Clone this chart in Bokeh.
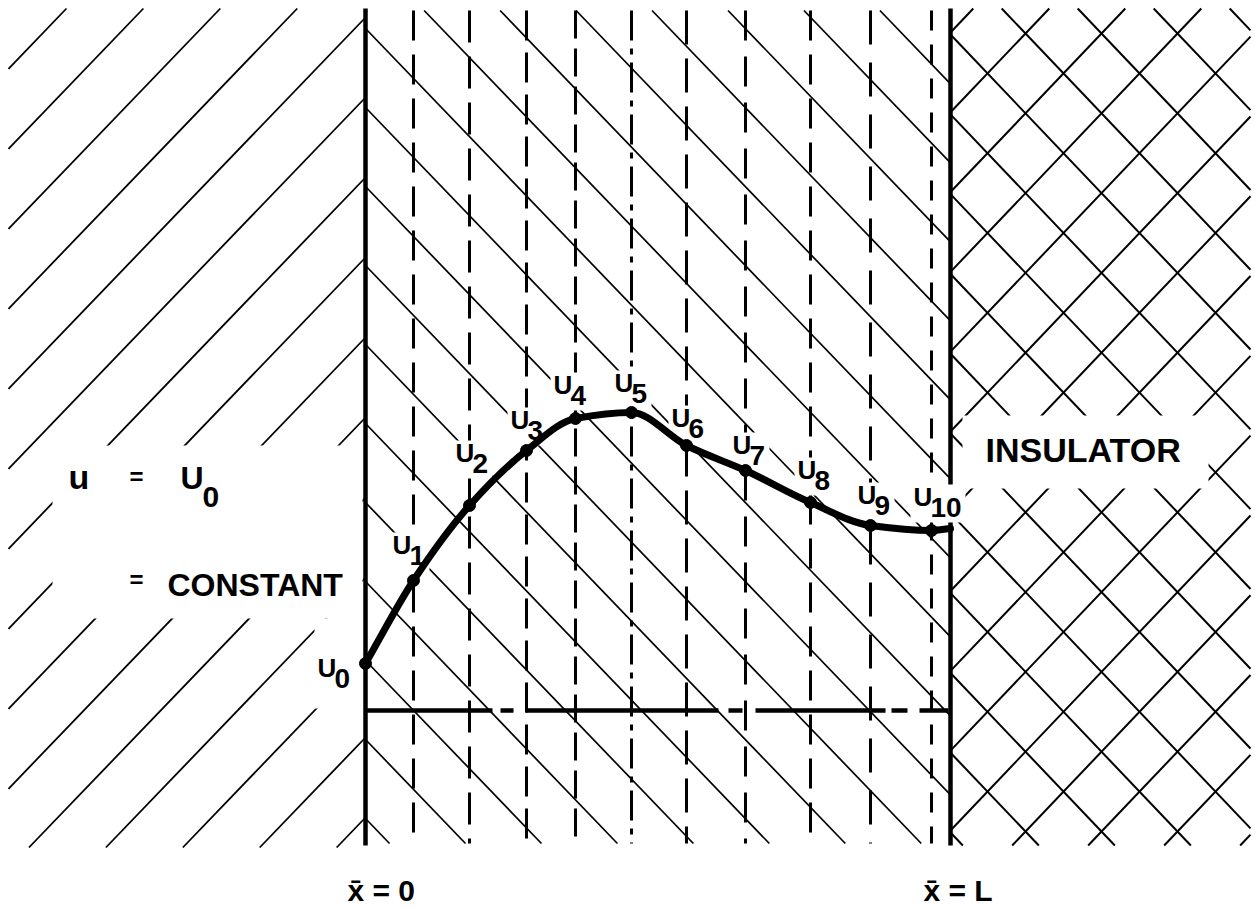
import numpy as np
from bokeh.plotting import figure
from bokeh.models import Range1d
from bokeh.core.properties import value
from bokeh.embed import file_html
from bokeh.resources import INLINE

# ---------------- data (drawing units: x-bar from wall, u above base line) ----------------
L = 585.0                      # x-bar = L (insulated face)
node_x = [0, 48, 104, 161, 210, 266, 321, 380, 445, 505, 566]     # x-bar of nodes u0..u10
node_u = [47, 130, 205, 260, 292, 298, 265, 240, 208, 185, 180]   # temperature u0..u10
u_at_L = 182                                                      # curve value at x = L
node_names = ["0", "1", "2", "3", "4", "5", "6", "7", "8", "9", "10"]
grid_x = [48, 104, 161, 210, 266, 321, 380, 445, 505, 566]        # dashed node lines

left_text = ["u", "U", "CONSTANT"]
right_text = "INSULATOR"
axis_labels = ["x\u0304 = 0", "x\u0304 = L"]

# ---------------- layout / styles ----------------
FONT = value("Liberation Sans")
TOP, BOT = 702, -135
label_off_x = [-48, -21, -14, -16, -22, -17, -15, -13, -13, -13, -18]
label_off_y = [-15, 25, 42, 20, 23, 19, 17, 15, 22, 20, 23]
dash_styles = ["30 14", "32 14", "30 12", "28 10", "30 8 6 8",
               "34 14", "30 16", "30 14", "34 18", "20 14"]

p = figure(width=1255, height=907, x_range=Range1d(-365, 890), y_range=Range1d(-197, 710),
           output_backend="svg", toolbar_location=None, min_border=0,
           x_axis_location=None, y_axis_location=None)
p.grid.visible = False
p.outline_line_color = None
p.background_fill_color = "white"
p.border_fill_color = "white"


def hatch(m, intercepts, x0, x1, y0, y1):
    a, b_, c, d = [], [], [], []
    for b in intercepts:
        xa, xb = (y0 - b) / m, (y1 - b) / m
        lo, hi = max(min(xa, xb), x0), min(max(xa, xb), x1)
        if hi - lo > 0.5:
            a.append(lo); b_.append(m * lo + b); c.append(hi); d.append(m * hi + b)
    return a, b_, c, d


def txt(xs, ys, texts, size):
    # ys are wanted baselines; bokeh's alphabetic layout sits ~0.4em lower
    p.text(x=xs, y=[y + 0.4 * size for y in ys], text=texts, text_font=FONT,
           text_font_style="bold", text_font_size=f"{size}px", text_color="black",
           text_baseline="alphabetic", text_align="left")


# left wall region: "/" hatching
k = np.arange(-25, 25)
s = hatch(1.04, 693 - 80 * k, -357, 0, -137, TOP)
p.segment(s[0], s[1], s[2], s[3], line_color="black", line_width=1.8)
# slab: "\" hatching
s = hatch(-1.04, 682 - 79 * k, 0, L, -133, 700)
p.segment(s[0], s[1], s[2], s[3], line_color="black", line_width=1.7)
# insulator: cross hatching
s = hatch(-1.05, 677 + 1.05 * (660 + 76 * k), L, 885, BOT, TOP)
p.segment(s[0], s[1], s[2], s[3], line_color="black", line_width=2.0)
s = hatch(1.05, 677 - 1.05 * (660 + 76 * k), L, 885, BOT, TOP)
p.segment(s[0], s[1], s[2], s[3], line_color="black", line_width=2.0)

# dashed node lines
for gx, ds in zip(grid_x, dash_styles):
    p.line([gx, gx], [700, -133], line_color="black", line_width=3, line_dash=ds)

# wall faces
p.segment([0, L], [TOP, TOP], [0, L], [BOT, BOT], line_color="black", line_width=4.5)
# base line
p.line([0, L], [0, 0], line_color="black", line_width=4.5,
       line_dash="127 8 13 12 193 10 14 13 130 6 16 12 29 60")

# white-out behind lettering
lx = [x + dx for x, dx in zip(node_x, label_off_x)]
ly = [u + dy for u, dy in zip(node_u, label_off_y)]
wl = [x - 3 for x in lx]
wr = [x + 17 + 15 * len(nm) + 5 for x, nm in zip(lx, node_names)]
wb = [y - 11 - 4 for y in ly]
wt = [y + 19 + 4 for y in ly]
wl += [-313, -51, 597]
wr += [-3, -3, 843]
wb += [92, 2, 222]
wt += [265, 92, 295]
p.quad(left=wl, right=wr, bottom=wb, top=wt, fill_color="white", line_color=None)

# temperature curve (monotone cubic Hermite through the nodes)
xs = np.array(node_x + [L], dtype=float)
us = np.array(node_u + [u_at_L], dtype=float)
h = np.diff(xs)
d = np.diff(us) / h
n = len(xs)
mm = np.zeros(n)
mm[0], mm[-1] = d[0], d[-1]
for i in range(1, n - 1):
    if d[i - 1] * d[i] > 0:
        w1, w2 = 2 * h[i] + h[i - 1], h[i] + 2 * h[i - 1]
        mm[i] = (w1 + w2) / (w1 / d[i - 1] + w2 / d[i])
p.bezier(x0=xs[:-1], y0=us[:-1], x1=xs[1:], y1=us[1:],
         cx0=xs[:-1] + h / 3, cy0=us[:-1] + mm[:-1] * h / 3,
         cx1=xs[1:] - h / 3, cy1=us[1:] - mm[1:] * h / 3,
         line_color="black", line_width=7, line_cap="round")
p.scatter(node_x, node_u, size=12, color="black")

# node labels
txt(lx, ly, ["U"] * len(lx), 26)
txt([x + 17 for x in lx], [y - 11 for y in ly], node_names, 28)

# left side lettering
txt([-297], [220], [left_text[0]], 34)
txt([-185], [220], [left_text[1]], 32)
txt([-163], [202], ["0"], 30)
txt([-236, -236], [224, 121], ["=", "="], 24)
txt([-198], [113], [left_text[2]], 32)

# insulator lettering
txt([620], [247], [right_text], 34)

# x-bar labels
txt([-18, L - 27], [-192, -192], axis_labels, 30)

open("out.html", "w").write(file_html(p, INLINE))
